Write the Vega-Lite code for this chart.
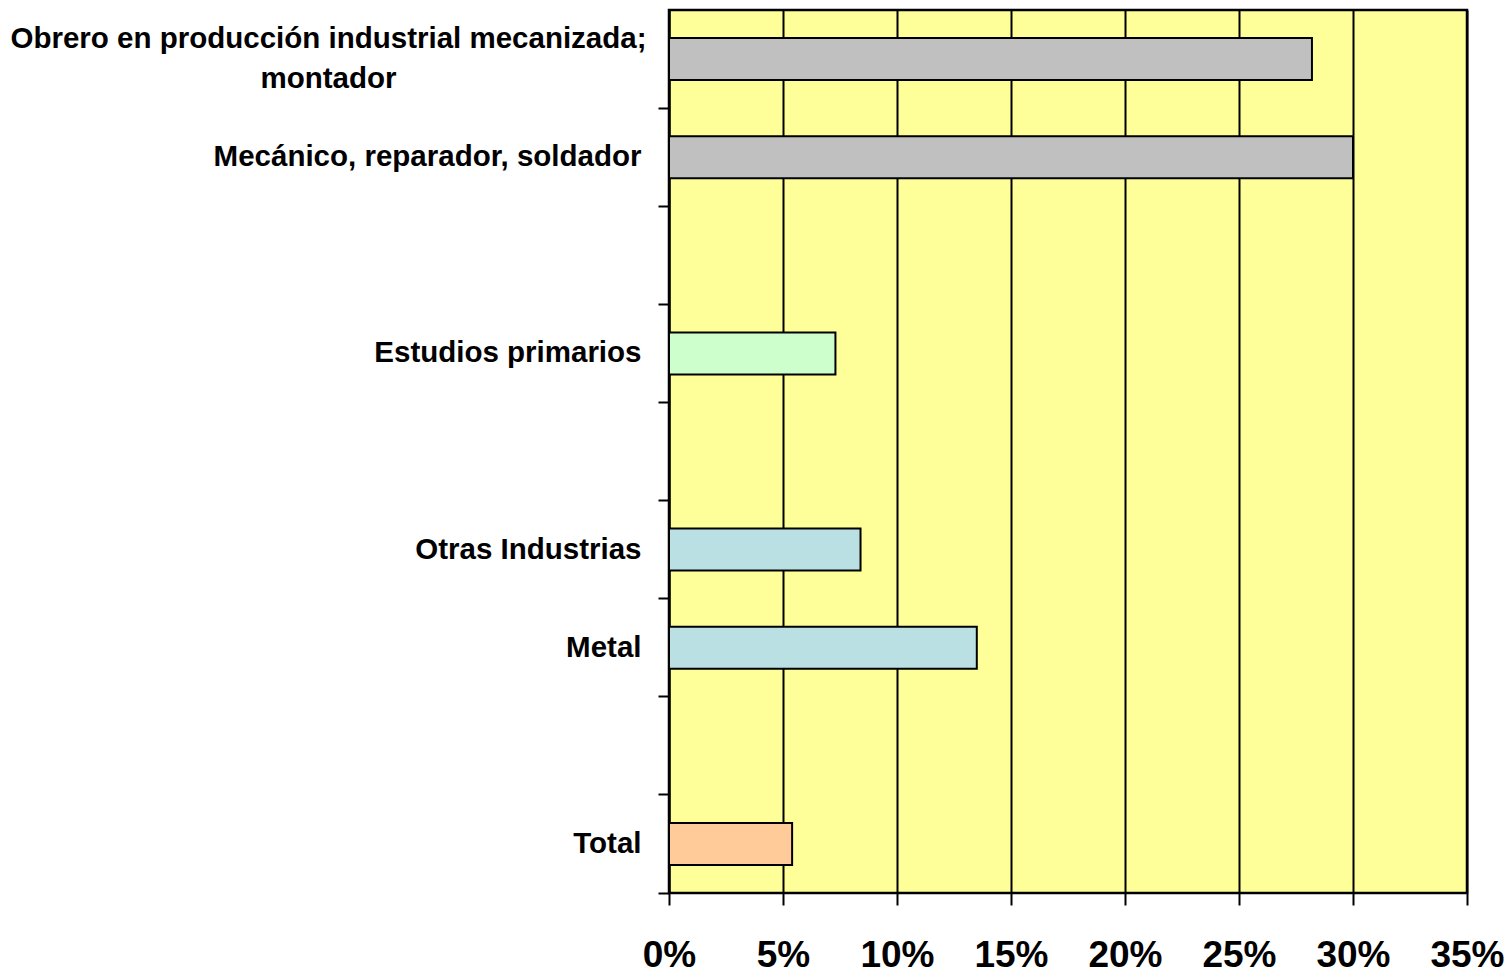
{
  "$schema": "https://vega.github.io/schema/vega-lite/v6.json",
  "autosize": {"type": "none"},
  "padding": {"left": 669, "top": 10, "right": 42, "bottom": 80},
  "width": 798,
  "height": 883,
  "background": "white",
  "config": {
    "view": {"fill": "#FFFF99", "stroke": "black", "strokeWidth": 2.5},
    "font": "Liberation Sans"
  },
  "data": {
    "values": [
      {"categoria": "Obrero en producción industrial mecanizada;|montador", "grupo": "Ocupación", "valor": 0.282},
      {"categoria": "Mecánico, reparador, soldador", "grupo": "Ocupación", "valor": 0.300},
      {"categoria": "Estudios primarios", "grupo": "Estudios", "valor": 0.073},
      {"categoria": "Otras Industrias", "grupo": "Sector", "valor": 0.084},
      {"categoria": "Metal", "grupo": "Sector", "valor": 0.135},
      {"categoria": "Total", "grupo": "Total", "valor": 0.054}
    ]
  },
  "mark": {"type": "bar", "orient": "horizontal", "stroke": "black", "strokeWidth": 2, "size": 42},
  "encoding": {
    "y": {
      "field": "categoria",
      "type": "nominal",
      "sort": null,
      "scale": {
        "domain": ["Obrero en producción industrial mecanizada;|montador", "Mecánico, reparador, soldador", "gap1", "Estudios primarios", "gap2", "Otras Industrias", "Metal", "gap3", "Total"],
        "paddingInner": 0,
        "paddingOuter": 0
      },
      "axis": {
        "orient": "left",
        "title": null,
        "bandPosition": 1,
        "domainColor": "black",
        "domainWidth": 2,
        "tickColor": "black",
        "tickWidth": 2,
        "tickSize": 11,
        "labelFont": "Liberation Sans",
        "labelFontWeight": "bold",
        "labelFontSize": 29.5,
        "labelColor": "black",
        "labelLimit": 800,
        "labelPadding": {"condition": {"test": "indexof(datum.value, '|') >= 0", "value": 330}, "value": 17},
        "labelLineHeight": 40,
        "labelAlign": {"condition": {"test": "indexof(datum.value, '|') >= 0", "value": "center"}, "value": "right"},
        "labelOffset": {"condition": {"test": "indexof(datum.value, '|') >= 0", "value": -20}, "value": 0},
        "labelExpr": "indexof(datum.value, 'gap') == 0 ? '' : (indexof(datum.value, '|') >= 0 ? split(datum.value, '|') : datum.value)"
      }
    },
    "x": {
      "field": "valor",
      "type": "quantitative",
      "scale": {"domain": [0, 0.35], "nice": false},
      "axis": {
        "orient": "bottom",
        "title": null,
        "format": ".0%",
        "values": [0, 0.05, 0.1, 0.15, 0.2, 0.25, 0.3, 0.35],
        "grid": true,
        "gridColor": "black",
        "gridWidth": 2,
        "gridOpacity": 1,
        "domain": false,
        "tickColor": "black",
        "tickWidth": 2,
        "tickSize": 12,
        "labelFont": "Liberation Sans",
        "labelFontWeight": "bold",
        "labelFontSize": 37,
        "labelColor": "black",
        "labelPadding": 32,
        "labelFlush": false,
        "labelOverlap": false
      }
    },
    "color": {
      "field": "grupo",
      "type": "nominal",
      "scale": {"domain": ["Ocupación", "Estudios", "Sector", "Total"], "range": ["#C0C0C0", "#CCFFCC", "#BBE0E3", "#FFCC99"]},
      "legend": null
    }
  }
}
